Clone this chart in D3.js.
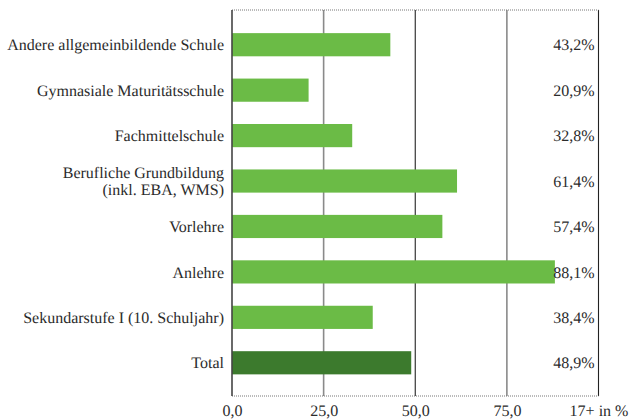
<!DOCTYPE html>
<html><head><meta charset="utf-8">
<script src="https://cdn.jsdelivr.net/npm/d3@7"></script>
<style>body{margin:0;background:#fff}svg{display:block}</style>
</head><body>
<script>
const categories = [
  ["Andere allgemeinbildende Schule"],
  ["Gymnasiale Maturitätsschule"],
  ["Fachmittelschule"],
  ["Berufliche Grundbildung", "(inkl. EBA, WMS)"],
  ["Vorlehre"],
  ["Anlehre"],
  ["Sekundarstufe I (10. Schuljahr)"],
  ["Total"]
];
const values = [43.2, 20.9, 32.8, 61.4, 57.4, 88.1, 38.4, 48.9];
const valueLabels = ["43,2%", "20,9%", "32,8%", "61,4%", "57,4%", "88,1%", "38,4%", "48,9%"];
const tickValues = [0, 25, 50, 75, 100];
const tickLabels = ["0,0", "25,0", "50,0", "75,0", "17+ in %"];

const W = 636, H = 419;
const svg = d3.select("body").append("svg").attr("width", W).attr("height", H);
const FONT = '"Liberation Serif"';
const fs = "16px";
const textColor = "#2b2b2b";

const x = d3.scaleLinear().domain([0, 100]).range([232, 598.5]);
const y = d3.scaleBand().domain(d3.range(categories.length)).range([22, 385.5])
  .paddingInner(0.49).paddingOuter(0.245);
const yTop = 10, yBottom = 396;

function styleText(sel) {
  return sel.style("font-family", FONT).style("font-size", fs).style("fill", textColor)
    .style("text-rendering", "geometricPrecision");
}

// gridlines
svg.append("g").selectAll("line").data(tickValues.slice(1)).join("line")
  .attr("x1", d => x(d)).attr("x2", d => x(d))
  .attr("y1", yTop).attr("y2", yBottom)
  .attr("stroke", d => (d === 25 || d === 75) ? "#8a8a8a" : "#222")
  .attr("stroke-width", d => (d === 25 || d === 75) ? 1.6 : 1.1);

// dotted top/bottom
svg.append("g").selectAll("line").data([yTop, yBottom]).join("line")
  .attr("x1", x(0)).attr("x2", x(100))
  .attr("y1", d => d).attr("y2", d => d)
  .attr("stroke", "#777").attr("stroke-width", 1)
  .attr("stroke-dasharray", "1,1");

// bars
svg.append("g").selectAll("rect").data(values).join("rect")
  .attr("x", x(0)).attr("y", (d, i) => y(i))
  .attr("width", d => x(d) - x(0)).attr("height", y.bandwidth())
  .attr("fill", (d, i) => i === values.length - 1 ? "#3c7a2d" : "#6bbb46");

// left axis line
svg.append("line").attr("x1", x(0)).attr("x2", x(0)).attr("y1", yTop).attr("y2", yBottom)
  .attr("stroke", "#444").attr("stroke-width", 1.6);

// category labels
const lab = svg.append("g");
categories.forEach((lines, i) => {
  const cy = y(i) + y.bandwidth() / 2;
  const lh = 17.5;
  const start = cy - (lines.length - 1) * lh / 2;
  const t = styleText(lab.append("text").attr("x", 224).attr("text-anchor", "end"));
  lines.forEach((l, j) => {
    t.append("tspan").attr("x", 224).attr("y", start + j * lh).attr("dy", "0.35em").text(l);
  });
});

// value labels
styleText(svg.append("g").selectAll("text").data(valueLabels).join("text"))
  .attr("text-anchor", "end")
  .attr("x", 594.5).attr("y", (d, i) => y(i) + y.bandwidth() / 2).attr("dy", "0.35em")
  .text(d => d);

// x axis tick labels
const axis = d3.axisBottom(x).tickValues(tickValues).tickSize(0)
  .tickFormat((d, i) => tickLabels[i]);
const ag = svg.append("g").attr("transform", `translate(0,${yBottom + 6})`).call(axis);
ag.select(".domain").remove();
styleText(ag.selectAll("text"));
</script>
</body></html>
